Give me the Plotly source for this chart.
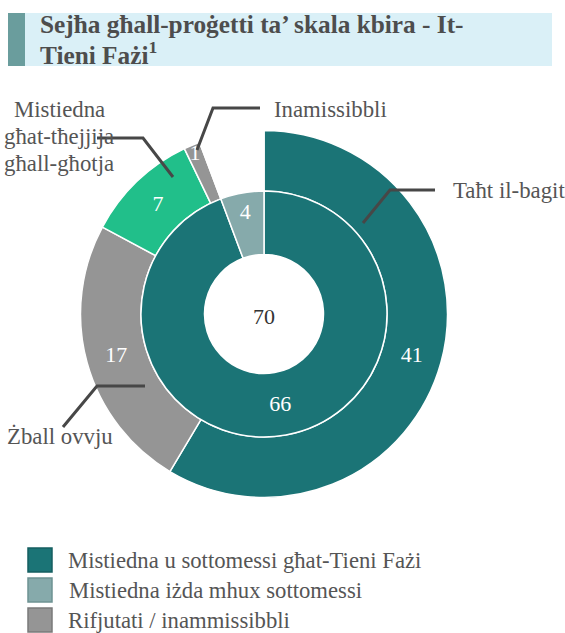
import plotly.graph_objects as go

W, H = 565, 633

# ---------------- data ----------------
outer_labels = ["Taħt il-bagit", "Żball ovvju", "Mistiedna għat-tħejjija għall-għotja", "Inamissibbli", ""]
outer_values = [41, 17, 7, 1, 4]
outer_colors = ["#1B7476", "#959595", "#21BF8A", "#959595", "rgba(0,0,0,0)"]

inner_labels = ["Mistiedna u sottomessi għat-Tieni Fażi", "Mistiedna iżda mhux sottomessi"]
inner_values = [66, 4]
inner_colors = ["#1B7476", "#86AAAB"]

legend_labels = ["Mistiedna u sottomessi għat-Tieni Fażi",
                 "Mistiedna iżda mhux sottomessi",
                 "Rifjutati / inammissibbli"]
legend_colors = ["#1B7476", "#86AAAB", "#959595"]
legend_borders = ["#155E60", "#6E9293", "#7A7A7A"]

title_lines = ["Sejħa għall-proġetti ta’ skala kbira - It-", "Tieni Fażi<sup>1</sup>"]
total = sum(inner_values)

FONT = "Liberation Serif"
LABEL_COLOR = "#555555"
LINE_COLOR = "#474747"


def px(x):
    return x / W


def py(y):
    return 1 - y / H


# geometry (pixels)
cx, cy = 264, 314
r_out, r_mid, r_hole = 183.5, 123, 59.5

fig = go.Figure()

fig.add_trace(go.Pie(
    labels=outer_labels, values=outer_values,
    text=[str(v) if l else "" for l, v in zip(outer_labels, outer_values)],
    textinfo="text", textposition="inside", insidetextorientation="horizontal",
    textfont=dict(family=FONT, size=22, color="white"),
    marker=dict(colors=outer_colors, line=dict(color="white", width=1.5)),
    sort=False, direction="clockwise", rotation=0,
    hole=r_mid / r_out,
    domain=dict(x=[px(cx - r_out), px(cx + r_out)], y=[py(cy + r_out), py(cy - r_out)]),
    hoverinfo="skip", showlegend=False,
))

fig.add_trace(go.Pie(
    labels=inner_labels, values=inner_values,
    text=[str(v) for v in inner_values],
    textinfo="text", textposition="inside", insidetextorientation="horizontal",
    textfont=dict(family=FONT, size=22, color="white"),
    marker=dict(colors=inner_colors, line=dict(color="white", width=1.5)),
    sort=False, direction="clockwise", rotation=0,
    hole=r_hole / r_mid,
    domain=dict(x=[px(cx - r_mid), px(cx + r_mid)], y=[py(cy + r_mid), py(cy - r_mid)]),
    hoverinfo="skip", showlegend=False,
))

shapes = []
annotations = []

# title box
shapes.append(dict(type="rect", xref="paper", yref="paper", x0=px(8), x1=px(552), y0=py(66), y1=py(13),
                   fillcolor="#DAF0F7", line=dict(width=0), layer="below"))
shapes.append(dict(type="rect", xref="paper", yref="paper", x0=px(8), x1=px(25), y0=py(66), y1=py(13),
                   fillcolor="#6A9D9D", line=dict(width=0), layer="below"))
for i, t in enumerate(title_lines):
    annotations.append(dict(text=f"<b>{t}</b>", x=px(38), y=py(24 + 29 * i), xref="paper", yref="paper",
                            xanchor="left", yanchor="middle", showarrow=False,
                            font=dict(family=FONT, size=25.3, color="#4D4D4D")))

# center total
annotations.append(dict(text=str(total), x=px(cx), y=py(cy + 2), xref="paper", yref="paper",
                        xanchor="center", yanchor="middle", showarrow=False,
                        font=dict(family=FONT, size=22, color="#333333")))

# callout labels with leader lines
def leader(points):
    path = "M " + " L ".join(f"{px(x)},{py(y)}" for x, y in points)
    shapes.append(dict(type="path", xref="paper", yref="paper", path=path,
                       line=dict(color=LINE_COLOR, width=3)))


def label(text, x, y, anchor="left", size=22.8):
    annotations.append(dict(text=text, x=px(x), y=py(y), xref="paper", yref="paper",
                            xanchor=anchor, yanchor="middle", showarrow=False,
                            font=dict(family=FONT, size=size, color=LABEL_COLOR)))


# Inamissibbli
leader([(197, 150), (213, 108), (260, 108)])
label(outer_labels[3], 272, 110)
# Taħt il-bagit
leader([(363, 223), (390, 190), (435, 190)])
label(outer_labels[0], 451, 190)
# Mistiedna għat-tħejjija għall-għotja (three lines)
leader([(173, 177), (143, 138), (97, 138)])
for i, part in enumerate(["Mistiedna", "għat-tħejjija", "għall-għotja"]):
    label(part, 59, 110 + 27 * i, anchor="center")
# Żball ovvju
leader([(145, 386), (97, 386), (63, 427)])
label(outer_labels[1], 5, 436)

# legend
for i, (lab, col, bcol) in enumerate(zip(legend_labels, legend_colors, legend_borders)):
    yc = 560 + 30 * i
    shapes.append(dict(type="rect", xref="paper", yref="paper",
                       x0=px(28), x1=px(52), y0=py(yc + 12), y1=py(yc - 12),
                       fillcolor=col, line=dict(color=bcol, width=1.5)))
    annotations.append(dict(text=lab, x=px(66 + (1 if i == 1 else 0)), y=py(yc), xref="paper", yref="paper",
                            xanchor="left", yanchor="middle", showarrow=False,
                            font=dict(family=FONT, size=22.7, color=LABEL_COLOR)))

fig.update_layout(
    width=W, height=H,
    margin=dict(l=0, r=0, t=0, b=0),
    paper_bgcolor="white", plot_bgcolor="white",
    showlegend=False,
    uniformtext=dict(minsize=22, mode="show"),
    shapes=shapes, annotations=annotations,
)

fig.write_html("out.html",
               config={"displayModeBar": False},
               post_script="document.body.style.margin='0';document.body.style.overflow='hidden';")
